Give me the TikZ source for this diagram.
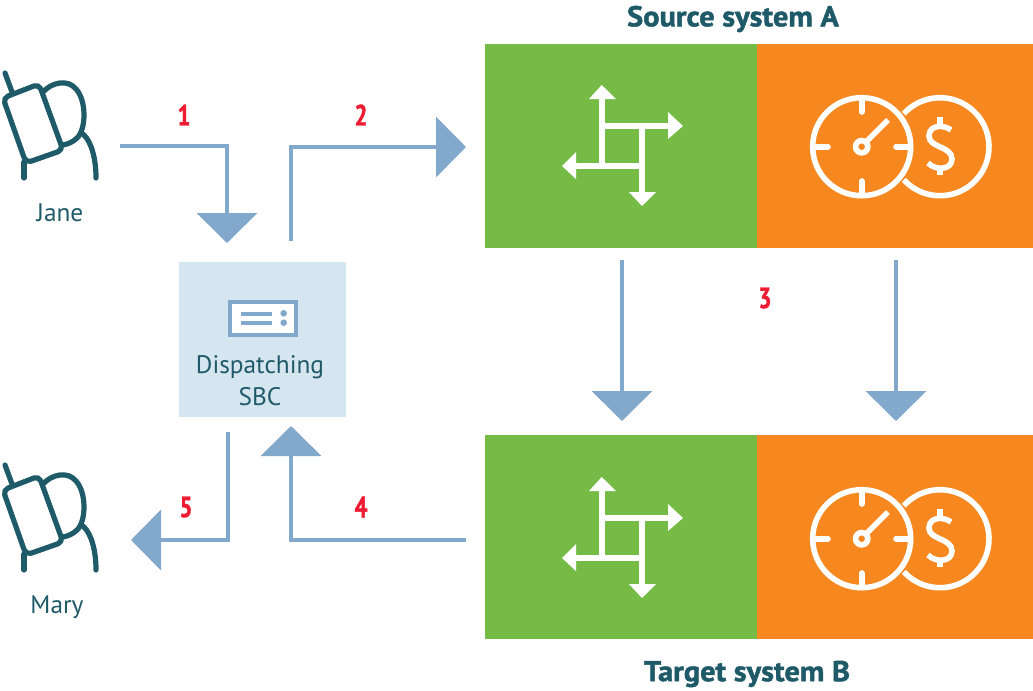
\documentclass[tikz,border=0pt]{standalone}
\usepackage{fontspec}
\setmainfont{PT Sans}
\newfontfamily\heavyfont[UprightFont={* Bold},FakeBold=1.6,FakeStretch=1.06]{PT Sans}
\newfontfamily\digitfont[UprightFont={* Bold},FakeBold=1.2,FakeStretch=0.78]{PT Sans}
\usetikzlibrary{arrows.meta}
\definecolor{teal}{HTML}{1F5A68}
\definecolor{flow}{HTML}{82A9CC}
\definecolor{pale}{HTML}{D6E6F1}
\definecolor{leaf}{HTML}{76BB46}
\definecolor{amber}{HTML}{F78820}
\definecolor{mark}{HTML}{ED1C33}
\tikzset{
  x=0.75pt,y=-0.75pt,
  panelbox/.style={draw=none,minimum height=153pt,inner sep=0pt,anchor=north west},
  flowline/.style={draw=flow,line width=2.9pt,-{Triangle[length=22.5pt,width=45pt]}},
  iconline/.style={draw=white,line width=4.2pt},
  persline/.style={draw=teal,line width=3.9pt,line cap=round,line join=round},
  title/.style={font=\fontsize{21.5}{24}\heavyfont,text=teal,inner sep=0pt},
  caption/.style={font=\fontsize{19}{24}\selectfont,text=teal,inner sep=0pt,align=center},
  step num/.style={font=\fontsize{22}{24}\digitfont,text=mark,inner sep=0pt},
  pics/person/.style={code={
    \draw[persline] (5,73) -- (12,92);
    \draw[persline,rounded corners=4pt] (3,98) -- (39,84) -- (63,150) -- (26,163) -- cycle;
    \draw[persline] (43,92) .. controls (52,82) and (68,79) .. (76,89) .. controls (87,101) and (86,130) .. (77,138) .. controls (73,142) and (68,144) .. (63,145);
    \draw[persline] (83,134) .. controls (92,142) and (96,160) .. (96,178);
    \draw[persline] (24,162) -- (24,178);
  }},
  pics/router/.style={code={
    \draw[iconline] (601.7,163) -- (601.7,98);
    \draw[iconline] (601.7,126) -- (668,126);
    \draw[iconline] (642,126) -- (642,192);
    \draw[iconline] (642,166) -- (576,166);
    \fill[white] (589,99) -- (601.7,85) -- (616,99) -- cycle;
    \fill[white] (668,112) -- (683,126) -- (668,139) -- cycle;
    \fill[white] (629,192) -- (642,206) -- (656,192) -- cycle;
    \fill[white] (576,152) -- (562,166) -- (576,179) -- cycle;
  }},
  pics/meter/.style={code={
    \draw[iconline] (861.7,146.7) circle[radius=36.75pt];
    \draw[iconline] (940,146.7) ++(137.6:36.75pt) arc[start angle=137.6,end angle=-137.6,radius=36.75pt];
    \draw[iconline,line cap=round] (861.7,100) -- (861.7,112);
    \draw[iconline,line cap=round] (861.7,181) -- (861.7,195);
    \draw[iconline,line cap=round] (815,146.7) -- (828,146.7);
    \draw[iconline,line cap=round] (896,146.7) -- (909,146.7);
    \draw[iconline] (861.7,146.7) circle[radius=4.6pt];
    \draw[iconline] (866,142) -- (888,120);
    \draw[iconline] (940,117) -- (940,127);
    \draw[iconline] (940,166) -- (940,175);
    \draw[iconline] (951,130) .. controls (943,124) and (929,125) .. (929,136) .. controls (929,148) and (952,146) .. (952,159) .. controls (952,170) and (936,171) .. (928,163);
  }},
}
\begin{document}
\begin{tikzpicture}
\useasboundingbox (0,0) rectangle (1033,690);
% panels
\node[panelbox,fill=leaf,minimum width=204pt] (srcl) at (485,44) {};
\node[panelbox,fill=amber,minimum width=207pt] (srcr) at (757,44) {};
\node[panelbox,fill=leaf,minimum width=204pt] (tgtl) at (485,435) {};
\node[panelbox,fill=amber,minimum width=207pt] (tgtr) at (757,435) {};
\pic at (0,0) {router};
\pic at (0,0) {meter};
\pic at (0,392) {router};
\pic at (0,392) {meter};
% titles
\node[title] (srct) at (733,19) {Source system A};
\node[title] (tgtt) at (747,674) {Target system B};
% people
\pic at (0,0) {person};
\pic at (0,392) {person};
\node[caption,anchor=base] (jane) at (60,221) {Jane};
\node[caption,anchor=base] (mary) at (57,613) {Mary};
% dispatcher
\node[fill=pale,minimum width=125.25pt,minimum height=116.25pt,inner sep=0pt,anchor=north west] (sbc) at (179,262) {};
\node[draw=flow,fill=white,line width=3pt,minimum width=50pt,minimum height=25pt,inner sep=0pt] (srv) at (263,318.5) {};
\draw[flow,line width=3pt] (241,313.7) -- (272,313.7);
\draw[flow,line width=3pt] (241,322.7) -- (272,322.7);
\fill[flow] (283.7,313.3) circle[radius=2.5pt];
\fill[flow] (283.7,322.7) circle[radius=2.5pt];
\node[caption] (sbct) at (260,381) {Dispatching\\ SBC};
% connector ends
\coordinate (a1s) at (120,146);
\coordinate (a1e) at (227,243);
\coordinate (a2s) at (291,241);
\coordinate (a2e) at (466,147);
\coordinate (a3s) at (622,260);
\coordinate (a3e) at (622,421);
\coordinate (b3s) at (896,260);
\coordinate (b3e) at (896,421);
\coordinate (a4s) at (466,540);
\coordinate (a4e) at (291,426);
\coordinate (a5s) at (228,432);
\coordinate (a5e) at (131,540);
\draw[flowline] (a1s) -| (a1e);
\draw[flowline] (a2s) |- (a2e);
\draw[flowline] (a3s) -- (a3e);
\draw[flowline] (b3s) -- (b3e);
\draw[flowline] (a4s) -| (a4e);
\draw[flowline] (a5s) |- (a5e);
% numbers
\node[step num] (n1) at (184,115) {1};
\node[step num] (n2) at (361,115) {2};
\node[step num] (n3) at (765,298) {3};
\node[step num] (n4) at (361,507) {4};
\node[step num] (n5) at (186,507) {5};
\end{tikzpicture}
\end{document}
